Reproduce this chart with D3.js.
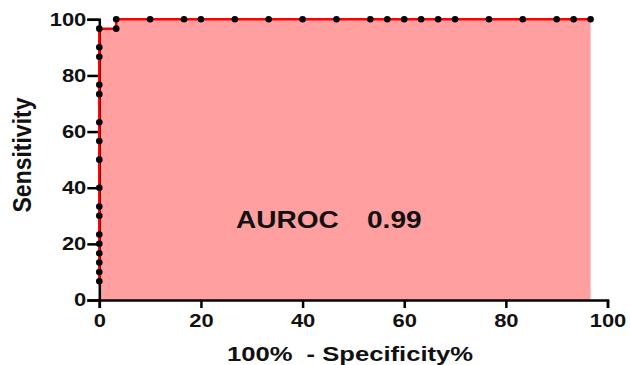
<!DOCTYPE html>
<html>
<head>
<meta charset="utf-8">
<script src="https://cdn.jsdelivr.net/npm/d3@7"></script>
<style>
  body { margin: 0; background: #fff; }
  svg { display: block; }
</style>
</head>
<body>
<div id="roc"></div>
<script>
// 100% - specificity% (x) and sensitivity% (y) of each ROC point
var fpr = [0, 0, 0, 0, 0, 0, 0, 0, 0, 0, 0, 0, 0, 0, 0, 0, 0,
           3.33, 3.33, 10, 16.67, 20, 26.67, 33.33, 40, 46.67, 53.33, 56.67,
           60, 63.33, 66.67, 70, 76.67, 83.33, 90, 93.33, 96.67]
var sens = [6.67, 10, 13.33, 16.67, 20, 23.33, 30, 33.33, 40, 50, 56.67, 63.33, 73.33, 76.67, 86.67, 90, 96.67,
            96.67, 100, 100, 100, 100, 100, 100, 100, 100, 100, 100,
            100, 100, 100, 100, 100, 100, 100, 100, 100]
var xTicks = [0, 20, 40, 60, 80, 100]
var yTicks = [0, 20, 40, 60, 80, 100]
var aucLabel = "AUROC"
var aucValue = "0.99"

const W = 630, H = 365
const MARGIN = { LEFT: 99.3, RIGHT: 22.5, TOP: 19.3, BOTTOM: 65 }
const STRETCH = 1.22   // the original text is a bit wide
const FONT = "'Liberation Sans', Arial, sans-serif"

var points = fpr.map((x, i) => ({ x: x, y: sens[i] }))

const svg = d3.select("#roc").append("svg")
    .attr("width", W)
    .attr("height", H)

var xScale = d3.scaleLinear().domain([0, 100]).range([MARGIN.LEFT, W - MARGIN.RIGHT])
var yScale = d3.scaleLinear().domain([0, 100]).range([H - MARGIN.BOTTOM, MARGIN.TOP])

// shaded area under the curve
var area = d3.area()
    .x(d => xScale(d.x))
    .y0(yScale(0))
    .y1(d => yScale(d.y))
svg.append("path")
    .datum([{ x: 0, y: 0 }].concat(points))
    .attr("d", area)
    .attr("fill", "#ff9f9f")

// axes
var xAxis = svg.append("g")
    .attr("transform", "translate(0," + yScale(0) + ")")
    .call(d3.axisBottom(xScale).tickValues(xTicks).tickSize(8).tickPadding(6))
var yAxis = svg.append("g")
    .attr("transform", "translate(" + xScale(0) + ",0)")
    .call(d3.axisLeft(yScale).tickValues(yTicks).tickSize(12).tickPadding(1))

;[xAxis, yAxis].forEach(ax => {
    ax.select(".domain").attr("stroke", "#000").attr("stroke-width", 2.5)
    ax.selectAll(".tick line").attr("stroke", "#000").attr("stroke-width", 2.5)
    ax.selectAll(".tick text")
        .style("font-family", FONT)
        .style("font-weight", "bold")
        .style("font-size", "18px")
        .attr("fill", "#111")
})
xAxis.selectAll(".tick text").attr("transform", "scale(" + STRETCH + ",1)")
yAxis.selectAll(".tick text")
    .attr("transform", "scale(" + STRETCH + ",1)")
    .attr("x", -13 / STRETCH)

// roc curve
var line = d3.line().x(d => xScale(d.x)).y(d => yScale(d.y))
svg.append("path")
    .datum(points)
    .attr("d", line)
    .attr("fill", "none")
    .attr("stroke", "#ff0000")
    .attr("stroke-width", 2.5)

svg.append("g").selectAll("circle")
    .data(points)
    .enter()
    .append("circle")
    .attr("cx", d => xScale(d.x))
    .attr("cy", d => yScale(d.y))
    .attr("r", 3.3)
    .attr("fill", "#000")

// titles
svg.append("text")
    .attr("transform", "translate(350,361) scale(" + STRETCH + ",1)")
    .attr("text-anchor", "middle")
    .style("white-space", "pre")
    .style("font-family", FONT)
    .style("font-weight", "bold")
    .style("font-size", "21px")
    .attr("fill", "#111")
    .text("100%  - Specificity%")
svg.append("text")
    .attr("transform", "translate(31,155) scale(1.1,1) rotate(-90)")
    .attr("text-anchor", "middle")
    .style("font-family", FONT)
    .style("font-weight", "bold")
    .style("font-size", "23px")
    .attr("fill", "#111")
    .text("Sensitivity")

svg.append("text")
    .attr("transform", "translate(236,228) scale(" + STRETCH + ",1)")
    .style("font-family", FONT)
    .style("font-weight", "bold")
    .style("font-size", "23px")
    .attr("fill", "#111")
    .text(aucLabel)
svg.append("text")
    .attr("transform", "translate(367,228) scale(" + STRETCH + ",1)")
    .style("font-family", FONT)
    .style("font-weight", "bold")
    .style("font-size", "23px")
    .attr("fill", "#111")
    .text(aucValue)
</script>
</body>
</html>
